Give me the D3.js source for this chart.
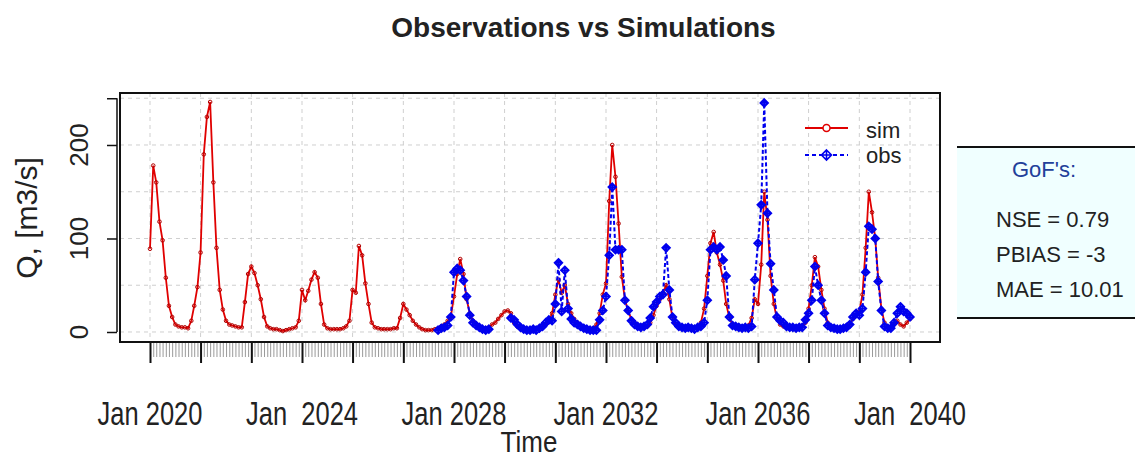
<!DOCTYPE html>
<html><head><meta charset="utf-8">
<script src="https://cdn.jsdelivr.net/npm/d3@7"></script>
<style>
body{margin:0;background:#fff}
svg{display:block}
text{font-family:"Liberation Sans",Arial,Helvetica,sans-serif}
</style>
</head><body>
<svg id="chart" width="1135" height="459"></svg>
<script>
// ---------------- DATA ----------------
const titleText = "Observations vs Simulations";
const startYear = 2020;   // monthly series, first value = Jan 2020
const simValues = [
  89,178,160,118,98,58,28,16,8,6,5,5,          // 2020
  4,12,28,48,85,190,230,246,160,90,45,24,       // 2021
  12,8,7,6,5,5,32,62,70,63,50,35,               // 2022
  16,6,4,3,3,2,1,2,3,4,5,12,                    // 2023
  45,34,44,56,64,58,30,8,4,3,3,3,               // 2024
  3,4,6,12,45,42,92,82,52,30,10,5,              // 2025
  4,3,3,3,3,4,4,15,30,24,18,12,                 // 2026
  8,5,3,2,2,2,3,4,6,8,12,16,                    // 2027
  38,62,78,62,35,20,12,8,5,4,4,5,               // 2028
  8,10,14,18,22,23,20,10,6,4,3,3,               // 2029
  3,3,4,5,6,8,12,20,40,56,42,50,                // 2030
  30,20,14,10,7,5,4,3,4,8,20,40,                // 2031
  52,140,200,166,116,59,35,22,14,10,7,6,        // 2032
  5,6,10,18,28,35,42,50,35,15,8,6,              // 2033
  5,5,4,4,5,6,10,25,60,95,107,85,               // 2034
  72,55,30,15,8,6,5,5,5,7,15,35,                // 2035
  30,72,150,120,60,30,14,8,6,5,5,5,             // 2036
  5,5,6,10,25,50,80,70,45,25,10,6,              // 2037
  5,4,4,5,6,8,14,18,22,40,90,150,               // 2038
  128,100,58,25,10,5,4,8,12,8,6,10,             // 2039
  14                                            // Jan 2040
];
const N = null;
const obsValues = [
  N,N,N,N,N,N,N,N,N,N,N,N,                      // 2020
  N,N,N,N,N,N,N,N,N,N,N,N,                      // 2021
  N,N,N,N,N,N,N,N,N,N,N,N,                      // 2022
  N,N,N,N,N,N,N,N,N,N,N,N,                      // 2023
  N,N,N,N,N,N,N,N,N,N,N,N,                      // 2024
  N,N,N,N,N,N,N,N,N,N,N,N,                      // 2025
  N,N,N,N,N,N,N,N,N,N,N,N,                      // 2026
  N,N,N,N,N,N,N,2,4,5,7,16,                     // 2027
  64,68,66,55,38,18,10,7,5,3,2,3,               // 2028
  N,N,N,N,N,N,15,13,8,5,3,2,                    // 2029
  2,3,2,4,6,10,13,12,30,74,22,66,               // 2030
  25,14,10,8,6,4,3,2,2,2,13,23,                 // 2031
  38,82,155,88,88,88,34,23,12,8,6,5,            // 2032
  6,8,15,27,32,38,40,90,45,16,10,6,             // 2033
  5,4,5,4,3,5,6,10,34,88,91,88,                 // 2034
  91,77,60,16,7,6,5,4,5,4,6,56,                 // 2035
  95,136,245,127,73,45,16,12,10,6,5,5,          // 2036
  4,5,5,13,20,34,70,50,34,20,7,5,               // 2037
  4,3,3,4,5,8,16,20,18,25,64,113,               // 2038
  110,100,54,23,6,4,4,10,20,27,22,20,           // 2039
  16                                            // Jan 2040
];
const xMajorTickMonths = [0,16,32,48,64,80,96,112,128,144,160,176,192,208,224,240];
const xLabelMonths = [0,48,96,144,192,240];
const xLabels = ["Jan 2020","Jan  2024","Jan 2028","Jan 2032","Jan 2036","Jan  2040"];
const yTickValues = [0,100,200,250];
const yTickLabels = ["0","100","200",""];
const yGridValues = [0,50,100,150,200,250];
const yTitle = "Q, [m3/s]";
const xTitle = "Time";
const legendNames = ["sim","obs"];
const gofTitle = "GoF's:";
const gofLines = ["NSE = 0.79","PBIAS = -3","MAE = 10.01"];

// ---------------- LAYOUT ----------------
const svg = d3.select("#chart");
const box = {l:120, r:940, t:93, b:342};
const monthDate = m => d3.utcMonth.offset(new Date(Date.UTC(startYear,0,1)), m);
const dates = simValues.map((_,i)=>monthDate(i));

const x = d3.scaleUtc().domain([dates[0], dates[dates.length-1]]).range([150,910]);
const y = d3.scaleLinear().domain([-10.7, 255.6]).range([box.b, box.t]);

const simCol = "#e00000", obsCol = "#0000ee";

// grid
const grid = svg.append("g");
grid.selectAll("line.h").data(yGridValues).join("line")
  .attr("x1",box.l).attr("x2",box.r).attr("y1",d=>y(d)).attr("y2",d=>y(d))
  .attr("stroke","#cfcfcf").attr("stroke-width",1).attr("stroke-dasharray","4,4");
grid.selectAll("line.v").data(xMajorTickMonths).join("line")
  .attr("x1",d=>x(monthDate(d))).attr("x2",d=>x(monthDate(d)))
  .attr("y1",box.t).attr("y2",box.b)
  .attr("stroke","#cfcfcf").attr("stroke-width",1).attr("stroke-dasharray","4,4");

// series lines
const simLine = d3.line().defined(d=>d!=null).x((d,i)=>x(dates[i])).y(d=>y(d));
svg.append("path").datum(simValues).attr("d",simLine)
  .attr("fill","none").attr("stroke",simCol).attr("stroke-width",1.8);
svg.append("g").selectAll("circle").data(simValues.map((v,i)=>[i,v]).filter(d=>d[1]!=null)).join("circle")
  .attr("cx",d=>x(dates[d[0]])).attr("cy",d=>y(d[1])).attr("r",1.8)
  .attr("fill","none").attr("stroke","#b00000").attr("stroke-width",1);

svg.append("path").datum(obsValues).attr("d",simLine)
  .attr("fill","none").attr("stroke",obsCol).attr("stroke-width",2).attr("stroke-dasharray","4,2.5");
const diamond = s => `M0,${-s}L${s},0L0,${s}L${-s},0Z M0,${-s}V${s} M${-s},0H${s}`;
svg.append("g").selectAll("path").data(obsValues.map((v,i)=>[i,v]).filter(d=>d[1]!=null)).join("path")
  .attr("transform",d=>`translate(${x(dates[d[0]])},${y(d[1])})`)
  .attr("d",diamond(3.8)).attr("fill","none").attr("stroke",obsCol).attr("stroke-width",1.8);

// plot box
svg.append("rect").attr("x",box.l).attr("y",box.t).attr("width",box.r-box.l).attr("height",box.b-box.t)
  .attr("fill","none").attr("stroke","#111").attr("stroke-width",2);

// x axis: minor monthly ticks
const minorAxis = d3.axisBottom(x).tickValues(dates).tickSize(14).tickFormat("");
const gMinor = svg.append("g").attr("transform",`translate(0,${box.b+1})`).call(minorAxis);
gMinor.select(".domain").remove();
gMinor.selectAll(".tick line").attr("stroke","#9a9a9a").attr("stroke-width",1);
// major ticks
const majorAxis = d3.axisBottom(x).tickValues(xMajorTickMonths.map(monthDate)).tickSize(21).tickFormat("");
const gMajor = svg.append("g").attr("transform",`translate(0,${box.b})`).call(majorAxis);
gMajor.select(".domain").remove();
gMajor.selectAll(".tick line").attr("stroke","#111").attr("stroke-width",2);
// x labels
svg.append("g").selectAll("text").data(xLabelMonths).join("text")
  .attr("transform",(d)=>`translate(${x(monthDate(d))},425) scale(1,1.3)`)
  .attr("text-anchor","middle").attr("font-size",25.5).attr("fill","#222")
  .style("white-space","pre").attr("xml:space","preserve")
  .text((d,i)=>xLabels[i]);
svg.append("text").attr("transform","translate(529,452) scale(1,1.15)")
  .attr("text-anchor","middle").attr("font-size",26).attr("fill","#222").text(xTitle);

// y axis
const yAxis = d3.axisLeft(y).tickValues(yTickValues).tickSize(10).tickFormat("");
const gY = svg.append("g").attr("transform","translate(117,0)").call(yAxis);
gY.select(".domain").attr("stroke","#111").attr("stroke-width",1.5).attr("d",`M0,${y(0)}V${y(250)}`);
gY.selectAll(".tick line").attr("stroke","#111").attr("stroke-width",1.5);
svg.append("g").selectAll("text").data(yTickValues).join("text")
  .attr("transform",d=>`translate(88,${y(d)}) rotate(-90)`)
  .attr("text-anchor","middle").attr("font-size",26).attr("fill","#222")
  .text((d,i)=>yTickLabels[i]);
svg.append("text").attr("transform",`translate(37,218) rotate(-90)`)
  .attr("text-anchor","middle").attr("font-size",30).attr("fill","#222").text(yTitle);

// title
svg.append("text").attr("x",583.5).attr("y",37).attr("text-anchor","middle")
  .attr("font-size",28).attr("font-weight","bold").attr("fill","#222").text(titleText);

// legend
const lg = svg.append("g");
lg.append("line").attr("x1",805).attr("x2",848).attr("y1",128).attr("y2",128)
  .attr("stroke",simCol).attr("stroke-width",2);
lg.append("circle").attr("cx",826.5).attr("cy",128).attr("r",3.5)
  .attr("fill","#fff").attr("stroke",simCol).attr("stroke-width",1.5);
lg.append("line").attr("x1",805).attr("x2",848).attr("y1",155).attr("y2",155)
  .attr("stroke",obsCol).attr("stroke-width",2).attr("stroke-dasharray","4,3");
lg.append("path").attr("transform","translate(826.5,155)").attr("d",diamond(5))
  .attr("fill","#fff").attr("stroke",obsCol).attr("stroke-width",1.6);
lg.selectAll("text").data(legendNames).join("text")
  .attr("x",866).attr("y",(d,i)=>138+i*25).attr("font-size",22).attr("fill","#222").text(d=>d);

// GoF box
const gb = svg.append("g");
gb.append("rect").attr("x",957).attr("y",147).attr("width",190).attr("height",171).attr("fill","#f0ffff");
gb.append("line").attr("x1",957).attr("x2",1135).attr("y1",147).attr("y2",147).attr("stroke","#111").attr("stroke-width",2);
gb.append("line").attr("x1",957).attr("x2",1135).attr("y1",318).attr("y2",318).attr("stroke","#111").attr("stroke-width",2);
gb.append("text").attr("x",1012).attr("y",177).attr("font-size",22).attr("fill","#22409a").text(gofTitle);
gb.selectAll("text.g").data(gofLines).join("text").attr("class","g")
  .attr("x",996).attr("y",(d,i)=>227+i*35).attr("font-size",22).attr("fill","#222").text(d=>d);
</script>
</body></html>
